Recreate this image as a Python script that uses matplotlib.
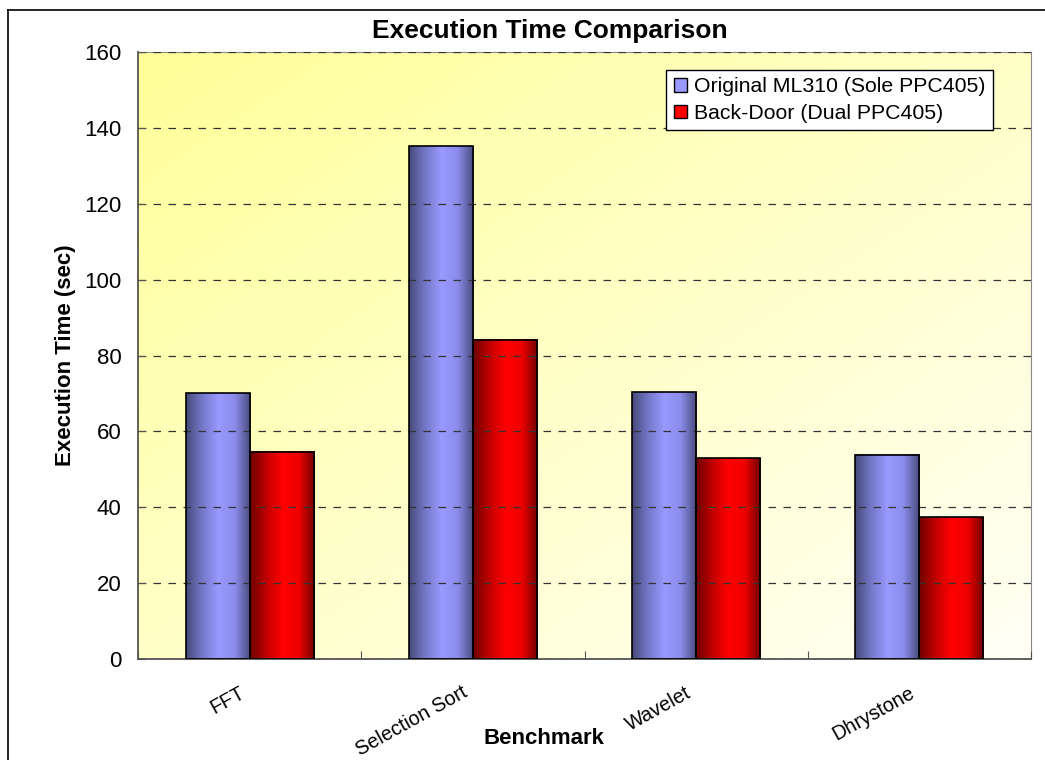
import numpy as np
import matplotlib.pyplot as plt
import matplotlib.transforms as mtransforms
from matplotlib.colors import LinearSegmentedColormap
from matplotlib.patches import Patch
from matplotlib.lines import Line2D

plt.rcParams['font.family'] = ['Liberation Sans', 'DejaVu Sans']

benchmarks = ['FFT', 'Selection Sort', 'Wavelet', 'Dhrystone']
original = [70.0, 135.2, 70.3, 53.9]
backdoor = [54.6, 84.1, 52.9, 37.3]
series_names = ['Original ML310 (Sole PPC405)', 'Back-Door (Dual PPC405)']
yticks = [0, 20, 40, 60, 80, 100, 120, 140, 160]

blue_cmap = LinearSegmentedColormap.from_list(
    'blue_bar', ['#474A7A', '#7478C8', '#9999FF', '#8C8CEB', '#474A7A'])
red_cmap = LinearSegmentedColormap.from_list(
    'red_bar', ['#6E0000', '#C00000', '#FF0000', '#F00000', '#6E0000'])
bg_cmap = LinearSegmentedColormap.from_list(
    'bg', ['#FFFF99', '#FFFFC8', '#FFFFF6'])

fig = plt.figure(figsize=(10.45, 7.6), dpi=100)
ax = fig.add_axes([138 / 1045, 1 - 659 / 760, 893 / 1045, 607 / 760])

# diagonal yellow wash behind the plot
gx, gy = np.meshgrid(np.linspace(0, 1, 300), np.linspace(0, 1, 300))
wash = np.clip((gx + gy) / 2.0, 0, 1)
ax.imshow(wash, cmap=bg_cmap, extent=[0, 1, 0, 1], transform=ax.transAxes,
          aspect='auto', zorder=0, interpolation='bilinear')

x = np.arange(len(benchmarks))
width = 0.287
ax.set_xlim(-0.5, len(benchmarks) - 0.5)
ax.set_ylim(0, 160)

for vals, cmap, off in [(original, blue_cmap, -width / 2),
                        (backdoor, red_cmap, width / 2)]:
    bars = ax.bar(x + off, vals, width, facecolor='none', edgecolor='black',
                  linewidth=1.2, zorder=3)
    ramp = np.linspace(0, 1, 256).reshape(1, -1)
    for b in bars:
        ax.imshow(ramp, cmap=cmap, aspect='auto', zorder=2,
                  extent=[b.get_x(), b.get_x() + b.get_width(), 0, b.get_height()],
                  interpolation='bilinear')

ax.set_yticks(yticks)
ax.set_yticklabels([str(t) for t in yticks], fontsize=16)
ax.yaxis.grid(True, linestyle=(0, (6, 6)), color='#333333', linewidth=0.9)
ax.set_axisbelow(False)
for gl in ax.get_ygridlines():
    gl.set_zorder(1)

# category boundaries get the tick marks, names sit under the groups
ax.set_xticks(np.arange(len(benchmarks) + 1) - 0.5)
ax.set_xticklabels([''] * (len(benchmarks) + 1))
shift = mtransforms.ScaledTranslation(-11 / 100, -24 / 100, fig.dpi_scale_trans)
for xi, name in zip(x, benchmarks):
    ax.text(xi, 0, name, transform=ax.get_xaxis_transform() + shift,
            rotation=29, ha='right', va='top', rotation_mode='anchor',
            fontsize=14.3)
ax.tick_params(axis='x', direction='in', length=6, color='#555555')
ax.tick_params(axis='y', direction='in', length=6, color='#555555', pad=12)

for side in ['top', 'right']:
    ax.spines[side].set_color('#888888')
for side in ['left', 'bottom']:
    ax.spines[side].set_color('#555555')
    ax.spines[side].set_linewidth(1.3)

ax.set_ylabel('Execution Time (sec)', fontsize=16, fontweight='bold', labelpad=6)
fig.text(544 / 1045, 1 - 739 / 760, 'Benchmark', fontsize=16, fontweight='bold',
         ha='center', va='center')
fig.text(550 / 1045, 1 - 31 / 760, 'Execution Time Comparison', fontsize=19,
         fontweight='bold', ha='center', va='center')

handles = [Patch(facecolor='#9999FF', edgecolor='black', linewidth=1),
           Patch(facecolor='#FF0000', edgecolor='black', linewidth=1)]
leg = ax.legend(handles, series_names, loc='upper right',
                bbox_to_anchor=(993 / 1045, 1 - 70 / 760),
                bbox_transform=fig.transFigure, fontsize=15.3, frameon=True,
                fancybox=False, framealpha=1, edgecolor='black',
                handlelength=0.6, handleheight=0.6, handletextpad=0.35,
                borderpad=0.35, labelspacing=0.35, borderaxespad=0)
leg.get_frame().set_linewidth(1)
leg.set_zorder(5)

# outer chart border
fig.add_artist(Line2D([8 / 1045, 8 / 1045], [0, 1 - 10 / 760], color='black',
                      linewidth=1.2, transform=fig.transFigure))
fig.add_artist(Line2D([8 / 1045, 1], [1 - 10 / 760, 1 - 10 / 760], color='black',
                      linewidth=1.2, transform=fig.transFigure))

fig.savefig('out.png', dpi=100)
